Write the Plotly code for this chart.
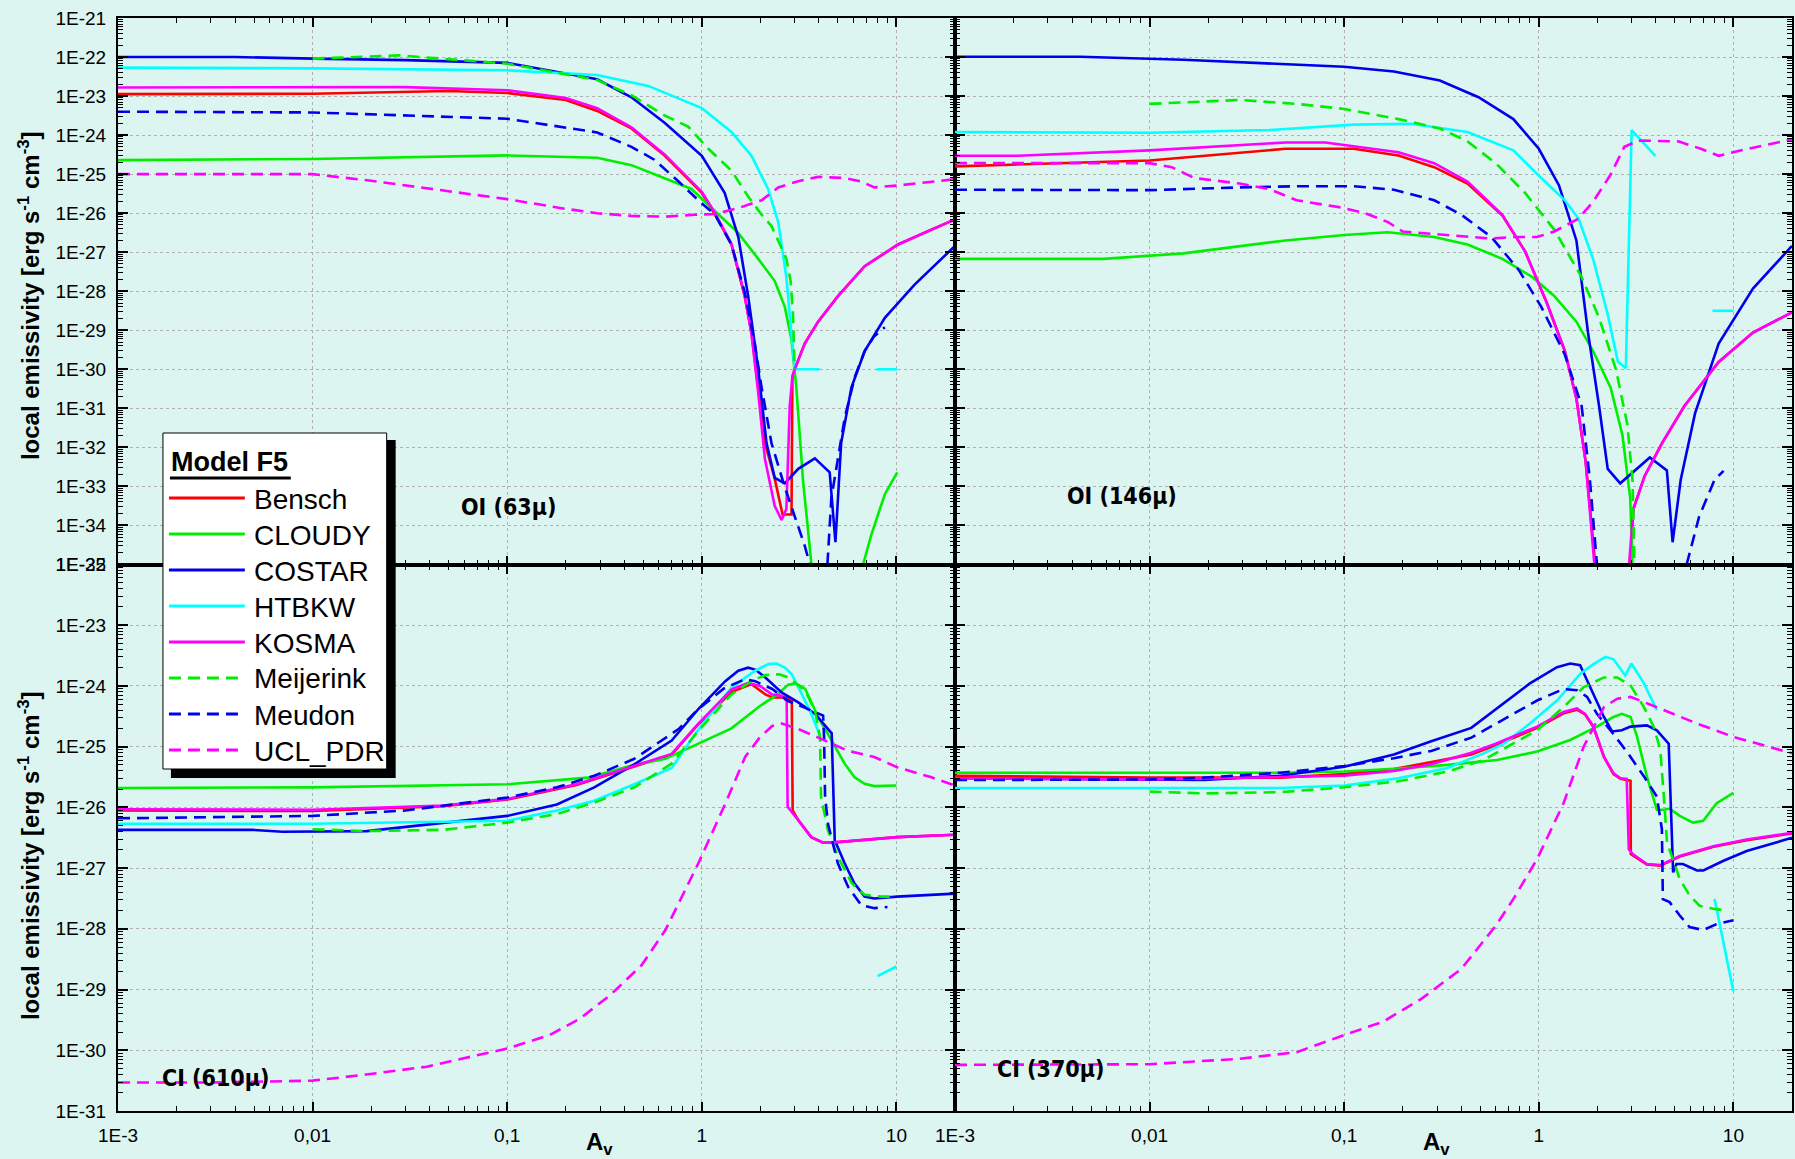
import plotly.graph_objects as go

# ---------------- models / styles ----------------
MODELS = ["Bensch", "CLOUDY", "COSTAR", "HTBKW", "KOSMA", "Meijerink", "Meudon", "UCL_PDR"]
COLORS = {"Bensch": "#ff0000", "CLOUDY": "#00ee00", "COSTAR": "#0000ee", "HTBKW": "#00ffff",
          "KOSMA": "#ff00ff", "Meijerink": "#00ee00", "Meudon": "#0000ee", "UCL_PDR": "#ff00ff"}
DASHED = {"Meijerink", "Meudon", "UCL_PDR"}

PANEL_LABELS = ["OI (63\u00b5)", "OI (146\u00b5)", "CI (610\u00b5)", "CI (370\u00b5)"]
X_TICKVALS = [0.001, 0.01, 0.1, 1, 10]
X_TICKTEXT = ["1E-3", "0,01", "0,1", "1", "10"]
Y_TOP_EXP = list(range(-21, -36, -1))
Y_BOT_EXP = list(range(-22, -32, -1))

# ---------------- OI (63 micron) ----------------
oi63_bensch_av = [0.001, 0.01, 0.05, 0.1, 0.2, 0.29, 0.435, 0.646, 1.0, 1.17, 1.42, 1.66, 1.80, 1.95, 2.11, 2.37, 2.6, 2.89, 2.92, 3.0, 3.38, 3.96, 5.02, 6.87, 10.2, 15.1, 20]
oi63_bensch_em = [1.12e-23, 1.15e-23, 1.35e-23, 1.2e-23, 7.94e-24, 4.17e-24, 1.48e-24, 2.95e-25, 3.31e-26, 9.12e-27, 1.58e-27, 7.59e-29, 8.71e-30, 3.39e-31, 1.29e-32, 1.58e-33, 1.91e-34, 1.91e-34, 6.46e-31, 1.0e-30, 4.57e-30, 1.66e-29, 7.59e-29, 4.37e-28, 1.58e-27, 3.80e-27, 6.92e-27]
oi63_cloudy_av = [0.001, 0.01, 0.1, 0.29, 0.435, 0.646, 0.885, 1.17, 1.54, 1.95, 2.37, 2.67, 2.89, 3.06, 3.31, 3.66, None, 6.74, 7.43, 8.72, 10.1]
oi63_cloudy_em = [2.29e-25, 2.45e-25, 3.02e-25, 2.63e-25, 1.70e-25, 7.94e-26, 4.17e-26, 1.12e-26, 3.09e-27, 6.76e-28, 1.82e-28, 3.98e-29, 5.62e-30, 3.39e-31, 1.48e-33, 1e-35, None, 1e-35, 5.75e-35, 6.31e-34, 2.29e-33]
oi63_costar_av = [0.001, 0.004, 0.01, 0.03, 0.1, 0.29, 0.435, 0.646, 1.0, 1.31, 1.54, 1.73, 1.95, 2.15, 2.37, 2.67, 3.13, 3.81, 4.54, 4.86, 5.2, 5.87, 6.87, 8.72, 12.4, 20]
oi63_costar_em = [1.0e-22, 1.0e-22, 9.12e-23, 8.32e-23, 7.08e-23, 2.69e-23, 9.33e-24, 2.04e-24, 2.95e-25, 3.31e-26, 2.45e-27, 7.59e-29, 1.0e-30, 1.29e-32, 1.66e-33, 1.20e-33, 2.82e-33, 5.25e-33, 2.29e-33, 3.72e-35, 1.29e-32, 3.39e-31, 2.95e-30, 2.09e-29, 1.48e-28, 1.45e-27]
oi63_htbkw_av = [0.001, 0.01, 0.1, 0.29, 0.53, 1.0, 1.42, 1.80, 2.19, 2.47, 2.72, 3.0, 4.04, None, 7.9, 10.1]
oi63_htbkw_em = [5.37e-23, 5.13e-23, 4.57e-23, 3.47e-23, 1.82e-23, 4.90e-24, 1.20e-24, 2.95e-25, 4.17e-26, 5.89e-27, 2.29e-28, 1e-30, 1e-30, None, 1e-30, 1e-30]
oi63_kosma_av = [0.001, 0.03, 0.1, 0.2, 0.29, 0.435, 0.646, 1.0, 1.17, 1.42, 1.66, 1.80, 1.95, 2.11, 2.37, 2.57, 2.72, 2.83, 2.92, 3.0, 3.38, 3.96, 5.02, 6.87, 10.2, 15.1, 20]
oi63_kosma_em = [1.66e-23, 1.70e-23, 1.41e-23, 8.91e-24, 4.90e-24, 1.58e-24, 3.16e-25, 3.55e-26, 1.0e-26, 1.66e-27, 7.94e-29, 7.94e-30, 2.51e-31, 5.01e-33, 3.16e-34, 1.38e-34, 2.63e-34, 1.15e-31, 6.46e-31, 1.0e-30, 4.57e-30, 1.66e-29, 7.59e-29, 4.37e-28, 1.58e-27, 3.80e-27, 6.92e-27]
oi63_meijerink_av = [0.01, 0.028, 0.1, 0.29, 0.435, 0.646, 0.85, 1.08, 1.42, 1.73, 2.03, 2.28, 2.52, 2.72, 2.86, 2.94, 3.0]
oi63_meijerink_em = [9.12e-23, 1.10e-22, 6.76e-23, 2.57e-23, 1.05e-23, 3.16e-24, 1.66e-24, 4.47e-25, 1.23e-25, 2.69e-26, 9.12e-27, 4.68e-27, 1.58e-27, 6.76e-28, 1.82e-28, 2.57e-29, 1.0e-30]
oi63_meudon_av = [0.001, 0.01, 0.1, 0.29, 0.435, 0.57, 0.76, 0.96, 1.17, 1.42, 1.66, 1.87, 2.03, 2.28, 2.67, 3.0, 3.38, 3.59, None, 4.42, 4.63, 5.43, 6.12, 6.87, 7.7, 8.72]
oi63_meudon_em = [3.98e-24, 3.80e-24, 2.63e-24, 1.17e-24, 5.01e-25, 2.34e-25, 6.46e-26, 2.14e-26, 9.12e-27, 1.58e-27, 9.55e-29, 4.57e-30, 3.39e-31, 1.29e-32, 9.55e-34, 1.70e-34, 3.02e-35, 1e-35, None, 1e-35, 5.01e-34, 5.89e-32, 6.46e-31, 2.95e-30, 7.08e-30, 1.20e-29]
oi63_ucl_av = [0.001, 0.01, 0.02, 0.05, 0.1, 0.2, 0.29, 0.435, 0.646, 0.92, 1.17, 1.54, 2.03, 2.47, 3.13, 3.96, 5.43, 6.6, 7.7, 10.2, 15.1, 20]
oi63_ucl_em = [1e-25, 1e-25, 6.76e-26, 3.63e-26, 2.29e-26, 1.29e-26, 1e-26, 8.51e-27, 8.13e-27, 9.12e-27, 9.55e-27, 1.35e-26, 2.14e-26, 4.57e-26, 6.61e-26, 8.51e-26, 7.94e-26, 6.46e-26, 4.57e-26, 5.13e-26, 6.46e-26, 7.41e-26]

# ---------------- OI (146 micron) ----------------
oi146_bensch_av = [0.001, 0.01, 0.05, 0.112, 0.19, 0.29, 0.43, 0.65, 0.85, 1.1, 1.36, 1.56, 1.74, 1.95, None, 2.95, 3.06, 3.5, 4.3, 5.6, 8.4, 12.6, 20]
oi146_bensch_em = [1.58e-25, 2.24e-25, 4.47e-25, 4.47e-25, 3.02e-25, 1.51e-25, 5.75e-26, 8.71e-27, 1.05e-27, 5.01e-29, 2.95e-30, 1.78e-31, 4.37e-33, 1e-35, None, 1e-35, 2.63e-34, 1.86e-33, 1.29e-32, 1.15e-31, 1.55e-30, 8.71e-30, 2.88e-29]
oi146_cloudy_av = [0.001, 0.0058, 0.0149, 0.05, 0.1, 0.167, 0.29, 0.43, 0.65, 0.93, 1.2, 1.56, 1.9, 2.34, 2.69, 2.95, 3.03]
oi146_cloudy_em = [6.76e-28, 6.76e-28, 9.33e-28, 2.0e-27, 2.75e-27, 3.24e-27, 2.45e-27, 1.58e-27, 6.76e-28, 2.29e-28, 7.59e-29, 1.66e-29, 2.95e-30, 3.39e-31, 2.04e-32, 5.01e-34, 1e-35]
oi146_costar_av = [0.001, 0.0044, 0.0149, 0.1, 0.18, 0.31, 0.49, 0.74, 1.0, 1.27, 1.56, 1.79, 2.04, 2.26, 2.62, 3.03, 3.72, 4.55, 4.87, 5.36, 6.35, 8.4, 12.6, 20]
oi146_costar_em = [1.02e-22, 1.02e-22, 8.51e-23, 5.62e-23, 4.27e-23, 2.51e-23, 9.33e-24, 2.57e-24, 4.47e-25, 5.13e-26, 2.0e-27, 8.71e-30, 1.15e-31, 2.82e-33, 1.20e-33, 2.29e-33, 5.50e-33, 2.57e-33, 3.72e-35, 1.48e-33, 7.41e-32, 4.57e-30, 1.17e-28, 1.45e-27]
oi146_htbkw_av = [0.001, 0.01, 0.041, 0.112, 0.22, 0.43, 0.74, 1.03, 1.36, 1.6, 1.9, 2.26, 2.55, 2.8, 3.0, 3.97, None, 7.8, 10.0]
oi146_htbkw_em = [1.20e-24, 1.15e-24, 1.35e-24, 1.86e-24, 1.95e-24, 1.20e-24, 4.07e-25, 7.94e-26, 2.14e-26, 7.24e-27, 6.76e-28, 2.57e-29, 1.55e-30, 1.07e-30, 1.35e-24, 2.95e-25, None, 3.16e-29, 3.16e-29]
oi146_kosma_av = [0.001, 0.0021, 0.01, 0.05, 0.08, 0.19, 0.29, 0.43, 0.65, 0.85, 1.1, 1.36, 1.56, 1.74, 1.93, None, 2.91, 3.06, 3.5, 4.3, 5.6, 8.4, 12.6, 20]
oi146_kosma_em = [2.95e-25, 2.95e-25, 4.07e-25, 6.46e-25, 6.46e-25, 3.63e-25, 1.91e-25, 6.46e-26, 9.12e-27, 1.05e-27, 5.01e-29, 2.95e-30, 1.78e-31, 4.37e-33, 1e-35, None, 1e-35, 2.63e-34, 1.86e-33, 1.29e-32, 1.15e-31, 1.55e-30, 8.71e-30, 2.88e-29]
oi146_meijerink_av = [0.01, 0.029, 0.057, 0.1, 0.19, 0.31, 0.43, 0.6, 0.85, 1.2, 1.66, 2.04, 2.49, 2.85, 3.03, 3.1]
oi146_meijerink_em = [6.31e-24, 7.94e-24, 6.31e-24, 4.68e-24, 2.57e-24, 1.48e-24, 6.92e-25, 1.91e-25, 3.31e-26, 3.80e-27, 2.29e-28, 2.09e-29, 1.0e-30, 3.89e-32, 1.48e-33, 1e-35]
oi146_meudon_av = [0.001, 0.01, 0.029, 0.057, 0.112, 0.18, 0.29, 0.4, 0.57, 0.79, 1.03, 1.36, 1.66, 1.83, 1.99, None, 5.75, 6.67, 8.0, 8.9]
oi146_meudon_em = [3.98e-26, 3.89e-26, 4.57e-26, 4.90e-26, 4.90e-26, 3.98e-26, 2.14e-26, 9.12e-27, 2.45e-27, 3.47e-28, 3.98e-29, 2.40e-30, 1.15e-31, 1.48e-33, 1e-35, None, 1e-35, 1.70e-34, 1.48e-33, 2.51e-33]
oi146_ucl_av = [0.001, 0.01, 0.013, 0.017, 0.029, 0.041, 0.057, 0.098, 0.128, 0.168, 0.2, 0.33, 0.57, 0.74, 0.98, 1.2, 1.6, 1.9, 2.34, 2.75, 3.25, 5.2, 6.8, 8.4, 11.0, 20]
oi146_ucl_em = [1.91e-25, 1.91e-25, 1.51e-25, 7.94e-26, 5.75e-26, 4.17e-26, 2.14e-26, 1.38e-26, 1.0e-26, 5.89e-27, 3.39e-27, 2.75e-27, 2.24e-27, 2.45e-27, 2.45e-27, 3.39e-27, 7.24e-27, 1.95e-26, 9.77e-26, 5.01e-25, 7.24e-25, 6.92e-25, 4.47e-25, 2.95e-25, 4.07e-25, 7.76e-25]

# ---------------- CI (610 micron) ----------------
ci610_bensch_av = [0.001, 0.01, 0.047, 0.1, 0.227, 0.45, 0.7, 0.96, 1.42, 1.8, 2.12, 2.3, 2.7, 2.9, 2.93, 3.13, 3.65, 4.2, 4.65, 10.1, 20]
ci610_bensch_em = [8.91e-27, 8.71e-27, 1.05e-26, 1.35e-26, 2.34e-26, 4.68e-26, 7.41e-26, 2.34e-25, 7.94e-25, 1.07e-24, 7.24e-25, 6.46e-25, 6.46e-25, 5.62e-25, 8.91e-27, 6.17e-27, 3.24e-27, 2.63e-27, 2.63e-27, 3.24e-27, 3.55e-27]
ci610_cloudy_av = [0.001, 0.01, 0.1, 0.26, 0.45, 0.65, 0.96, 1.42, 1.99, 2.45, 2.78, 3.04, 3.4, 3.97, 4.65, 5.42, 6.08, 6.86, 7.7, 10.0]
ci610_cloudy_em = [2.09e-26, 2.14e-26, 2.40e-26, 3.09e-26, 5.01e-26, 6.31e-26, 1.12e-25, 2.0e-25, 4.68e-25, 7.24e-25, 1.05e-24, 1.10e-24, 8.91e-25, 3.02e-25, 1.26e-25, 5.25e-26, 3.16e-26, 2.45e-26, 2.24e-26, 2.29e-26]
ci610_costar_av = [0.001, 0.0049, 0.007, 0.019, 0.1, 0.18, 0.28, 0.45, 0.7, 0.96, 1.32, 1.54, 1.73, 1.88, 2.12, 2.58, 3.13, 3.82, 4.65, 4.74, 4.82, 5.42, 6.08, 6.86, 7.7, 10.1, 20]
ci610_costar_em = [4.27e-27, 4.27e-27, 3.98e-27, 4.07e-27, 7.24e-27, 1.12e-26, 2.14e-26, 5.13e-26, 1.26e-25, 4.17e-25, 1.20e-24, 1.78e-24, 2.0e-24, 1.86e-24, 1.38e-24, 7.76e-25, 5.37e-25, 3.47e-25, 1.66e-25, 2.45e-26, 2.88e-27, 1.20e-27, 5.62e-28, 3.39e-28, 3.16e-28, 3.39e-28, 3.80e-28]
ci610_htbkw_av = [0.001, 0.01, 0.1, 0.18, 0.28, 0.45, 0.7, 0.96, 1.42, 1.88, 2.2, 2.42, 2.67, 2.9, 3.27, 3.65, 4.05, None, 8.0, 10.0]
ci610_htbkw_em = [5.37e-27, 5.37e-27, 6.03e-27, 8.91e-27, 1.29e-26, 2.40e-26, 4.47e-26, 1.91e-25, 9.33e-25, 1.78e-24, 2.29e-24, 2.34e-24, 2.0e-24, 1.55e-24, 7.24e-25, 3.47e-25, 1.51e-25, None, 1.66e-29, 2.40e-29]
ci610_kosma_av = [0.001, 0.01, 0.047, 0.1, 0.227, 0.45, 0.7, 0.96, 1.42, 1.73, 1.99, 2.3, 2.58, 2.73, 2.76, 3.13, 3.65, 4.2, 4.65, 10.1, 20]
ci610_kosma_em = [9.33e-27, 9.12e-27, 1.07e-26, 1.38e-26, 2.40e-26, 4.79e-26, 7.59e-26, 2.40e-25, 8.71e-25, 1.12e-24, 1.0e-24, 7.24e-25, 6.92e-25, 5.62e-25, 1.02e-26, 6.17e-27, 3.24e-27, 2.63e-27, 2.63e-27, 3.24e-27, 3.55e-27]
ci610_meijerink_av = [0.01, 0.019, 0.047, 0.1, 0.18, 0.28, 0.45, 0.7, 0.96, 1.42, 1.8, 2.12, 2.5, 2.78, 3.4, 3.82, 4.05, 4.1, 4.45, 5.0, 5.9, 6.86, 8.4, 9.6]
ci610_meijerink_em = [4.37e-27, 4.07e-27, 4.27e-27, 5.62e-27, 7.76e-27, 1.20e-26, 2.14e-26, 5.25e-26, 1.82e-25, 7.24e-25, 1.20e-24, 1.51e-24, 1.55e-24, 1.38e-24, 8.32e-25, 3.89e-25, 1.41e-25, 1.48e-26, 4.17e-27, 1.55e-27, 5.62e-28, 3.63e-28, 3.39e-28, 3.39e-28]
ci610_meudon_av = [0.001, 0.01, 0.03, 0.1, 0.18, 0.28, 0.45, 0.76, 0.96, 1.3, 1.67, 1.88, 2.3, 2.78, 3.4, 4.2, 4.25, 4.3, 4.45, 5.0, 5.65, 6.6, 7.7, 9.0]
ci610_meudon_em = [6.61e-27, 7.24e-27, 8.91e-27, 1.45e-26, 2.14e-26, 3.31e-26, 6.31e-26, 1.95e-25, 4.17e-25, 9.12e-25, 1.29e-24, 1.20e-24, 8.91e-25, 5.62e-25, 4.37e-25, 3.24e-25, 1.41e-25, 1.48e-26, 5.37e-27, 1.20e-27, 4.90e-28, 2.45e-28, 2.19e-28, 2.29e-28]
ci610_ucl_av = [0.001, 0.0031, 0.01, 0.0188, 0.0386, 0.1, 0.165, 0.236, 0.339, 0.49, 0.65, 0.96, 1.32, 1.67, 1.98, 2.3, 2.58, 3.13, 3.97, 5.65, 7.7, 10.1, 15.0, 20]
ci610_ucl_em = [2.95e-31, 2.95e-31, 3.16e-31, 3.98e-31, 5.37e-31, 1.07e-30, 1.78e-30, 3.31e-30, 8.13e-30, 2.51e-29, 9.55e-29, 1.20e-27, 1.15e-26, 6.76e-26, 1.41e-25, 2.19e-25, 2.40e-25, 1.95e-25, 1.41e-25, 8.51e-26, 6.76e-26, 4.57e-26, 3.16e-26, 2.29e-26]

# ---------------- CI (370 micron) ----------------
ci370_bensch_av = [0.001, 0.01, 0.047, 0.1, 0.18, 0.28, 0.45, 0.6, 0.98, 1.34, 1.57, 1.73, 1.91, 2.16, 2.42, 2.63, 2.83, 2.96, 2.97, 3.04, 3.59, 4.21, 5.3, 7.9, 11.7, 20]
ci370_bensch_em = [3.31e-26, 3.09e-26, 3.09e-26, 3.55e-26, 4.27e-26, 5.50e-26, 7.41e-26, 1.05e-25, 2.04e-25, 3.55e-25, 4.07e-25, 3.39e-25, 2.09e-25, 6.76e-26, 3.55e-26, 2.95e-26, 2.82e-26, 2.75e-26, 1.70e-27, 1.62e-27, 1.15e-27, 1.10e-27, 1.55e-27, 2.24e-27, 2.88e-27, 3.72e-27]
ci370_cloudy_av = [0.001, 0.01, 0.047, 0.1, 0.19, 0.34, 0.61, 0.98, 1.45, 1.99, 2.42, 2.67, 2.96, 3.2, 3.59, 4.04, 4.39, 4.7, 5.3, 6.2, 7.0, 8.2, 10.0]
ci370_cloudy_em = [3.72e-26, 3.72e-26, 3.72e-26, 3.89e-26, 4.37e-26, 5.01e-26, 6.03e-26, 8.32e-26, 1.29e-25, 2.14e-25, 3.09e-25, 3.47e-25, 3.09e-25, 1.45e-25, 3.24e-26, 9.12e-27, 9.12e-27, 9.55e-27, 7.24e-27, 5.62e-27, 6.03e-27, 1.17e-26, 1.74e-26]
ci370_costar_av = [0.001, 0.0049, 0.01, 0.019, 0.047, 0.1, 0.18, 0.28, 0.45, 0.61, 0.9, 1.24, 1.45, 1.63, 1.84, 2.16, 2.38, 2.67, 2.96, 3.59, 4.04, 4.65, 4.9, 5.1, 5.5, 6.5, 7.0, 8.9, 11.7, 20]
ci370_costar_em = [3.02e-26, 2.88e-26, 2.82e-26, 2.82e-26, 3.31e-26, 4.68e-26, 7.41e-26, 1.23e-25, 2.04e-25, 4.27e-25, 1.10e-24, 2.04e-24, 2.34e-24, 2.19e-24, 9.55e-25, 3.09e-25, 1.78e-25, 1.86e-25, 2.14e-25, 2.24e-25, 1.86e-25, 1.12e-25, 8.51e-28, 1.17e-27, 1.17e-27, 9.12e-28, 9.12e-28, 1.32e-27, 1.91e-27, 3.16e-27]
ci370_htbkw_av = [0.001, 0.01, 0.047, 0.1, 0.19, 0.34, 0.52, 0.66, 0.9, 1.24, 1.63, 1.91, 2.2, 2.42, 2.78, 2.99, 3.47, 4.04, None, 8.0, 10.0]
ci370_htbkw_em = [2.09e-26, 2.09e-26, 2.09e-26, 2.29e-26, 3.02e-26, 4.47e-26, 7.76e-26, 1.12e-25, 2.40e-25, 5.75e-25, 1.58e-24, 2.29e-24, 3.02e-24, 2.75e-24, 1.48e-24, 2.34e-24, 1.10e-24, 3.98e-25, None, 3.09e-28, 9.33e-30]
ci370_kosma_av = [0.001, 0.01, 0.1, 0.18, 0.28, 0.45, 0.6, 0.98, 1.34, 1.57, 1.73, 1.91, 2.16, 2.42, 2.63, 2.83, 2.9, 3.04, 3.59, 4.21, 5.3, 7.9, 11.7, 20]
ci370_kosma_em = [3.02e-26, 2.88e-26, 3.31e-26, 3.98e-26, 5.13e-26, 7.94e-26, 1.12e-25, 2.14e-25, 3.72e-25, 4.27e-25, 3.47e-25, 2.14e-25, 6.92e-26, 3.63e-26, 3.02e-26, 2.95e-26, 2.04e-27, 1.70e-27, 1.17e-27, 1.12e-27, 1.58e-27, 2.29e-27, 2.95e-27, 3.80e-27]
ci370_meijerink_av = [0.01, 0.019, 0.047, 0.1, 0.19, 0.34, 0.52, 0.74, 0.98, 1.34, 1.7, 2.16, 2.53, 2.96, 3.47, 3.89, 4.21, 4.39, 4.56, 5.3, 5.95, 6.7, 7.9, 9.2]
ci370_meijerink_em = [1.82e-26, 1.70e-26, 1.78e-26, 2.14e-26, 2.69e-26, 3.89e-26, 6.03e-26, 1.12e-25, 1.86e-25, 4.47e-25, 9.55e-25, 1.38e-24, 1.38e-24, 1.02e-24, 4.47e-25, 2.14e-25, 8.91e-26, 1.51e-26, 2.63e-27, 6.61e-28, 3.55e-28, 2.40e-28, 2.14e-28, 2.0e-28]
ci370_meudon_av = [0.001, 0.01, 0.019, 0.047, 0.1, 0.18, 0.28, 0.45, 0.74, 0.98, 1.34, 1.57, 1.77, 1.99, 2.4, 2.83, 3.47, 4.04, 4.29, 4.34, 4.7, 5.3, 5.95, 7.0, 8.2, 10.0]
ci370_meudon_em = [2.82e-26, 2.88e-26, 3.09e-26, 3.72e-26, 4.79e-26, 6.46e-26, 8.51e-26, 1.41e-25, 3.47e-25, 5.75e-25, 8.91e-25, 8.51e-25, 6.61e-25, 3.47e-25, 1.66e-25, 8.32e-26, 3.24e-26, 1.51e-26, 4.37e-27, 3.09e-28, 2.75e-28, 1.66e-28, 1.07e-28, 9.55e-29, 1.20e-28, 1.38e-28]
ci370_ucl_av = [0.001, 0.01, 0.029, 0.057, 0.1, 0.158, 0.25, 0.4, 0.6, 0.74, 0.98, 1.34, 1.7, 2.16, 2.53, 2.96, 4.04, 6.5, 10.0, 14.2, 20]
ci370_ucl_em = [5.75e-31, 5.89e-31, 7.24e-31, 9.33e-31, 1.78e-30, 2.95e-30, 7.08e-30, 2.19e-29, 1.12e-28, 3.09e-28, 1.41e-27, 1.17e-26, 1.0e-25, 4.47e-25, 6.17e-25, 6.61e-25, 4.47e-25, 2.40e-25, 1.45e-25, 1.07e-25, 7.76e-26]

PANEL_DATA = [
    {"Bensch": (oi63_bensch_av, oi63_bensch_em), "CLOUDY": (oi63_cloudy_av, oi63_cloudy_em),
     "COSTAR": (oi63_costar_av, oi63_costar_em), "HTBKW": (oi63_htbkw_av, oi63_htbkw_em),
     "KOSMA": (oi63_kosma_av, oi63_kosma_em), "Meijerink": (oi63_meijerink_av, oi63_meijerink_em),
     "Meudon": (oi63_meudon_av, oi63_meudon_em), "UCL_PDR": (oi63_ucl_av, oi63_ucl_em)},
    {"Bensch": (oi146_bensch_av, oi146_bensch_em), "CLOUDY": (oi146_cloudy_av, oi146_cloudy_em),
     "COSTAR": (oi146_costar_av, oi146_costar_em), "HTBKW": (oi146_htbkw_av, oi146_htbkw_em),
     "KOSMA": (oi146_kosma_av, oi146_kosma_em), "Meijerink": (oi146_meijerink_av, oi146_meijerink_em),
     "Meudon": (oi146_meudon_av, oi146_meudon_em), "UCL_PDR": (oi146_ucl_av, oi146_ucl_em)},
    {"Bensch": (ci610_bensch_av, ci610_bensch_em), "CLOUDY": (ci610_cloudy_av, ci610_cloudy_em),
     "COSTAR": (ci610_costar_av, ci610_costar_em), "HTBKW": (ci610_htbkw_av, ci610_htbkw_em),
     "KOSMA": (ci610_kosma_av, ci610_kosma_em), "Meijerink": (ci610_meijerink_av, ci610_meijerink_em),
     "Meudon": (ci610_meudon_av, ci610_meudon_em), "UCL_PDR": (ci610_ucl_av, ci610_ucl_em)},
    {"Bensch": (ci370_bensch_av, ci370_bensch_em), "CLOUDY": (ci370_cloudy_av, ci370_cloudy_em),
     "COSTAR": (ci370_costar_av, ci370_costar_em), "HTBKW": (ci370_htbkw_av, ci370_htbkw_em),
     "KOSMA": (ci370_kosma_av, ci370_kosma_em), "Meijerink": (ci370_meijerink_av, ci370_meijerink_em),
     "Meudon": (ci370_meudon_av, ci370_meudon_em), "UCL_PDR": (ci370_ucl_av, ci370_ucl_em)},
]

# ---------------- geometry ----------------
W, H = 1795, 1159
ML, MR, MT, MB = 118, 1, 18, 48
PW, PH = W - ML - MR, H - MT - MB


def px(x):
    return (x - ML) / PW


def py(y):
    return (H - MB - y) / PH


BG = "#dcf5f0"
GRID = "#b0b0b0"
TICKFONT = dict(family="Arial, Liberation Sans, sans-serif", size=19, color="black")
BOLD = "Arial, Liberation Sans, sans-serif"
NARROW = "Liberation Sans Narrow, Arial Narrow, DejaVu Sans Condensed, sans-serif"
DASH = "12px,7px"

fig = go.Figure()

axis_ids = [("x", "y"), ("x2", "y2"), ("x3", "y3"), ("x4", "y4")]
for p, (xa, ya) in enumerate(axis_ids):
    for m in MODELS:
        av, em = PANEL_DATA[p][m]
        fig.add_trace(go.Scatter(
            x=av, y=em, mode="lines", name=m, xaxis=xa, yaxis=ya,
            showlegend=False, connectgaps=False,
            line=dict(color=COLORS[m], width=2.6, dash=DASH if m in DASHED else "solid"),
        ))

x_minor = [k * 10.0 ** n for n in range(-3, 2) for k in range(2, 10) if k * 10.0 ** n <= 20]


def y_minor(lo, hi):
    return [k * 10.0 ** n for n in range(lo, hi) for k in range(2, 10)]


def xaxis(domain, anchor, labels):
    return dict(
        type="log", domain=domain, anchor=anchor, range=[-3, 1.30103],
        showline=True, linecolor="black", linewidth=2, mirror="allticks",
        ticks="inside", ticklen=9, tickwidth=1.5, tickcolor="black",
        tickmode="array", tickvals=X_TICKVALS, ticktext=X_TICKTEXT,
        showticklabels=labels, tickfont=TICKFONT, ticklabelstandoff=6,
        showgrid=True, gridcolor=GRID, griddash="dot", gridwidth=1,
        minor=dict(tickmode="array", tickvals=x_minor, ticks="inside", ticklen=5,
                   tickwidth=1.2, tickcolor="black", showgrid=False),
        zeroline=False,
    )


def yaxis(domain, anchor, exps, labels):
    return dict(
        type="log", domain=domain, anchor=anchor, range=[exps[-1], exps[0]],
        showline=True, linecolor="black", linewidth=2, mirror="allticks",
        ticks="inside", ticklen=10, tickwidth=1.5, tickcolor="black",
        tickmode="array", tickvals=[10.0 ** e for e in exps], ticktext=["1E%d" % e for e in exps],
        showticklabels=labels, tickfont=TICKFONT, ticklabelstandoff=6,
        showgrid=True, gridcolor=GRID, griddash="dot", gridwidth=1,
        minor=dict(tickmode="array", tickvals=y_minor(exps[-1], exps[0]), ticks="inside", ticklen=5,
                   tickwidth=1.2, tickcolor="black", showgrid=False),
        zeroline=False,
    )


fig.update_layout(
    width=W, height=H,
    margin=dict(l=ML, r=MR, t=MT, b=MB),
    paper_bgcolor=BG, plot_bgcolor=BG,
    showlegend=False,
    xaxis=xaxis([0, 0.5], "y", False),
    xaxis2=xaxis([0.5, 1], "y2", False),
    xaxis3=xaxis([0, 0.5], "y3", True),
    xaxis4=xaxis([0.5, 1], "y4", True),
    yaxis=yaxis([0.5, 1], "x", Y_TOP_EXP, True),
    yaxis2=yaxis([0.5, 1], "x2", Y_TOP_EXP, False),
    yaxis3=yaxis([0, 0.5], "x3", Y_BOT_EXP, True),
    yaxis4=yaxis([0, 0.5], "x4", Y_BOT_EXP, False),
)

annotations = []
# y titles
for yc in (296, 856):
    annotations.append(dict(
        xref="paper", yref="paper", x=px(29), y=py(yc), xanchor="center", yanchor="middle",
        text="<b>local emissivity [erg s<sup>-1</sup> cm<sup>-3</sup>]</b>", textangle=-90,
        showarrow=False, font=dict(family=BOLD, size=24, color="black")))
# x titles
for xc in (600, 1438):
    annotations.append(dict(
        xref="paper", yref="paper", x=px(xc), y=py(1143), xanchor="center", yanchor="middle",
        text="<b>A<sub>v</sub></b>", showarrow=False,
        font=dict(family=BOLD, size=24, color="black")))
# panel labels
for (cx, cy), lab in zip([(509, 507), (1123, 496), (216, 1078), (1052, 1069)], PANEL_LABELS):
    annotations.append(dict(
        xref="paper", yref="paper", x=px(cx), y=py(cy), xanchor="center", yanchor="middle",
        text="<b>%s</b>" % lab, showarrow=False,
        font=dict(family=NARROW, size=23, color="black")))

# manual legend box
shapes = [
    dict(type="rect", xref="paper", yref="paper", x0=px(171), x1=px(396), y0=py(440), y1=py(778),
         fillcolor="black", line=dict(width=0), layer="above"),
    dict(type="rect", xref="paper", yref="paper", x0=px(163), x1=px(387), y0=py(433), y1=py(769),
         fillcolor="white", line=dict(color="black", width=1), layer="above"),
    dict(type="line", xref="paper", yref="paper", x0=px(170), x1=px(291), y0=py(478), y1=py(478),
         line=dict(color="black", width=3), layer="above"),
]
annotations.append(dict(
    xref="paper", yref="paper", x=px(169), y=py(462), xanchor="left", yanchor="middle",
    text="<b>Model F5</b>", showarrow=False, font=dict(family=BOLD, size=27, color="black")))
for i, m in enumerate(MODELS):
    yy = 498 + 36 * i
    shapes.append(dict(type="line", xref="paper", yref="paper", x0=px(169), x1=px(245),
                       y0=py(yy), y1=py(yy), layer="above",
                       line=dict(color=COLORS[m], width=3, dash=DASH if m in DASHED else "solid")))
    annotations.append(dict(
        xref="paper", yref="paper", x=px(252), y=py(yy + 1), xanchor="left", yanchor="middle",
        text=m, showarrow=False, font=dict(family=BOLD, size=28, color="black")))

fig.update_layout(annotations=annotations, shapes=shapes)
fig.write_html("out.html",
               config={"displayModeBar": False},
               post_script="document.body.style.margin='0';document.body.style.padding='0';"
                           "document.body.style.background='%s';" % BG)
